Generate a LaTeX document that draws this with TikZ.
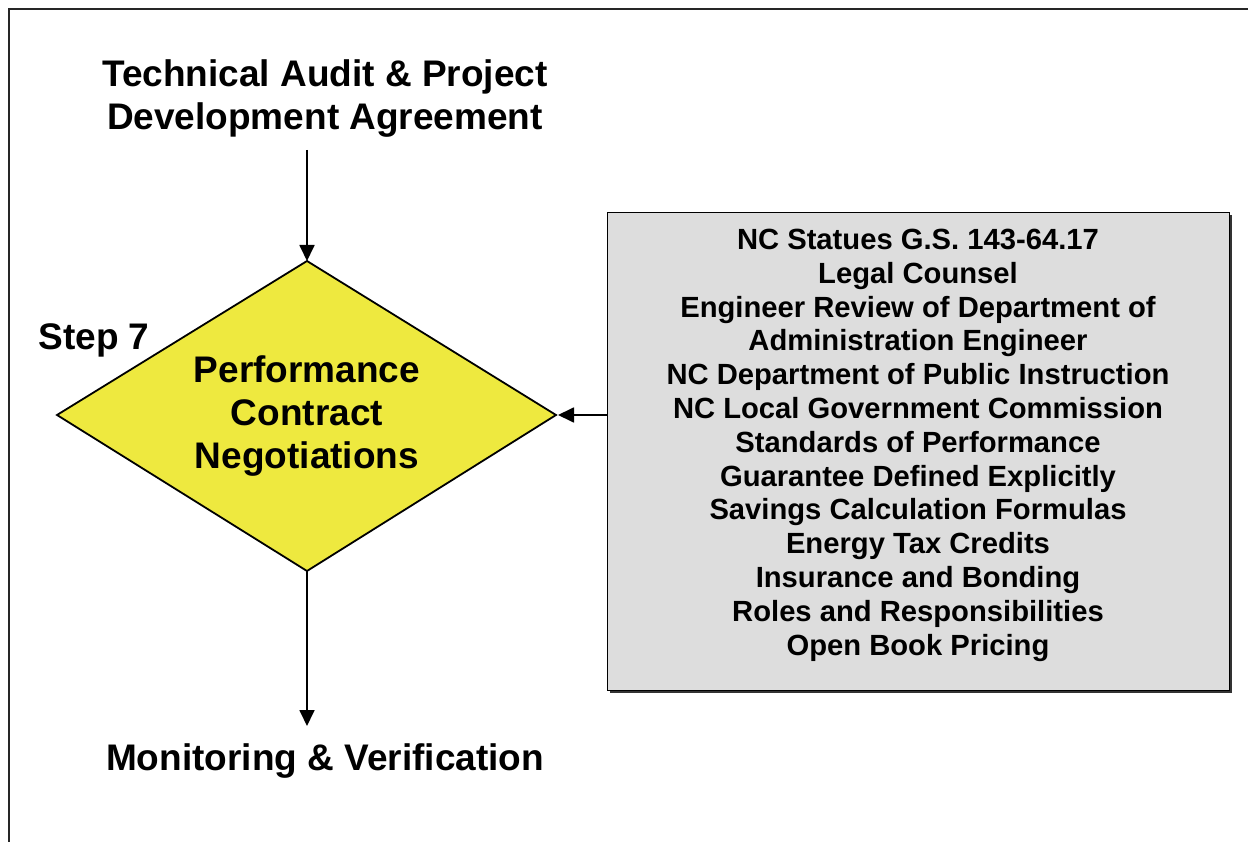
\documentclass[tikz,border=0pt]{standalone}
\usepackage{fontspec}
\setmainfont{Liberation Sans}
\usetikzlibrary{arrows.meta,shapes.geometric}
\definecolor{dyellow}{HTML}{EEE93F}
\definecolor{boxgray}{HTML}{DDDDDD}
\tikzset{
  big/.style={font=\fontsize{37}{43}\selectfont\bfseries, align=center, inner sep=0pt},
  listtxt/.style={font=\fontsize{29.2}{33.8}\selectfont\bfseries, align=center, inner sep=0pt},
  arr/.style={line width=1.8pt, -{Triangle[length=16pt,width=15pt]}},
}
\begin{document}
\begin{tikzpicture}[x=1pt,y=-1pt]
\useasboundingbox (0,0) rectangle (1248,842);
% frame
\draw[line width=2.2pt, black!85] (9,842) -- (9,9) -- (1248,9);
% title (base = last line)
\node[big, anchor=base] (title) at (325,130) {Technical Audit \& Project\\Development Agreement};
\coordinate (tbot) at (307,150);
% diamond
\path[draw=black, line width=1.8pt, fill=dyellow] (307,261) coordinate (dtop) -- (556,415) coordinate (dright) -- (307,571) coordinate (dbot) -- (57,415) -- cycle;
\node[big, anchor=base] (dtext) at (307,468) {Performance\\Contract\\Negotiations};
\node[big, anchor=base] (step) at (94,350) {Step 7};
% bottom
\node[big, anchor=base] (mon) at (325,770) {Monitoring \& Verification};
\coordinate (mtop) at (307,726);
% gray box with shadow
\fill[black!80] (610,215) rectangle (1232,693);
\node[draw=black, line width=1.8pt, fill=boxgray, minimum width=622pt, minimum height=478pt, inner sep=0pt] (box) at (918.5,451.5) {};
\node[listtxt, anchor=base] (list) at (918,655) {NC Statues G.S. 143-64.17\\Legal Counsel\\Engineer Review of Department of\\Administration Engineer\\NC Department of Public Instruction\\NC Local Government Commission\\Standards of Performance\\Guarantee Defined Explicitly\\Savings Calculation Formulas\\Energy Tax Credits\\Insurance and Bonding\\Roles and Responsibilities\\Open Book Pricing};
% arrows
\draw[arr] (tbot) -- (dtop);
\draw[arr] (dbot) -- (mtop);
\draw[arr] (box.west |- dright) -- ([xshift=2pt]dright);
\end{tikzpicture}
\end{document}
